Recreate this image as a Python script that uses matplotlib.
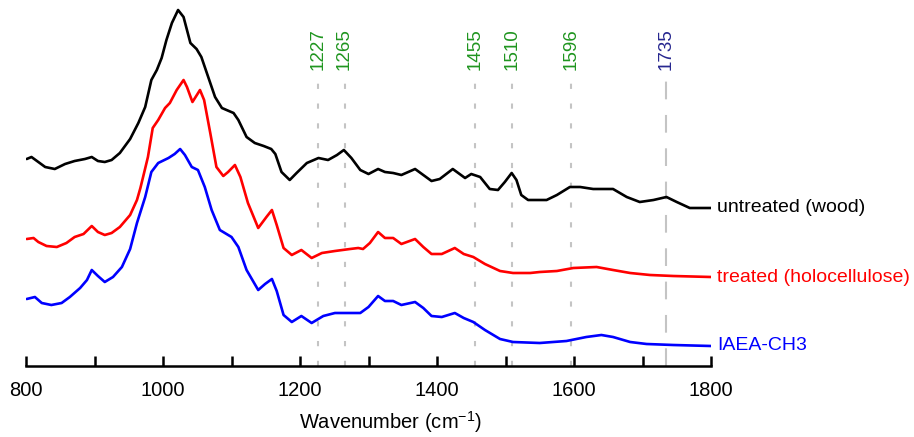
import matplotlib
matplotlib.use("Agg")
import matplotlib.pyplot as plt

plt.rcParams['font.family'] = ['Liberation Sans', 'DejaVu Sans']
plt.rcParams['mathtext.fontset'] = 'custom'
plt.rcParams['mathtext.rm'] = 'Liberation Sans'
plt.rcParams['mathtext.it'] = 'Liberation Sans'
plt.rcParams['mathtext.default'] = 'regular'

# ---- data (arbitrary absorbance units, offset spectra) ----
wn_untreated = [801, 808, 818, 828, 842, 857, 871, 886, 896, 905, 915, 925, 937, 952, 964, 974,
                983, 991, 998, 1005, 1013, 1022, 1030, 1035, 1040, 1049, 1056, 1066, 1076, 1086,
                1103, 1110, 1122, 1134, 1147, 1158, 1164, 1173, 1185, 1195, 1210, 1227, 1241,
                1254, 1264, 1275, 1288, 1300, 1314, 1324, 1336, 1348, 1368, 1380, 1392, 1404,
                1423, 1441, 1450, 1463, 1477, 1489, 1499, 1509, 1516, 1523, 1533, 1560, 1575,
                1594, 1609, 1628, 1657, 1677, 1696, 1716, 1735, 1750, 1769, 1800]
abs_untreated = [207, 209, 204, 199, 197, 202, 205, 207, 209, 205, 204, 206, 213, 227, 243, 259,
                 286, 296, 308, 326, 343, 356, 349, 336, 323, 317, 309, 289, 269, 258,
                 253, 246, 229, 223, 220, 217, 212, 194, 186, 193, 203, 208, 206,
                 211, 216, 208, 196, 192, 197, 194, 193, 191, 197, 191, 185, 187,
                 197, 188, 192, 189, 177, 176, 184, 193, 186, 171, 166, 166, 171,
                 179, 179, 177, 177, 169, 164, 166, 169, 164, 158, 158]

wn_treated = [801, 811, 818, 830, 845, 859, 871, 884, 896, 905, 915, 925, 937, 952, 962, 967,
              972, 978, 985, 993, 1003, 1010, 1020, 1030, 1035, 1043, 1054, 1060, 1069, 1078,
              1088, 1095, 1105, 1113, 1124, 1139, 1151, 1159, 1166, 1176, 1188, 1202, 1217,
              1232, 1251, 1273, 1285, 1292, 1302, 1314, 1324, 1336, 1348, 1368, 1380, 1392,
              1407, 1426, 1439, 1453, 1470, 1492, 1511, 1536, 1550, 1575, 1599, 1633, 1657,
              1682, 1711, 1745, 1800]
abs_treated = [127, 128, 124, 120, 119, 123, 129, 132, 140, 134, 131, 133, 139, 151, 166, 178,
               192, 209, 238, 246, 258, 263, 276, 286, 279, 264, 276, 266, 233, 199,
               190, 194, 201, 189, 163, 138, 149, 156, 141, 118, 111, 116, 108,
               113, 115, 117, 118, 117, 123, 134, 128, 128, 122, 127, 119, 112,
               112, 118, 112, 109, 102, 95, 93, 93, 94, 95, 98, 99, 96,
               93, 91, 90, 89]

wn_iaea = [801, 813, 823, 837, 852, 864, 879, 889, 896, 905, 915, 927, 940, 952, 962, 974,
           983, 993, 1008, 1017, 1025, 1032, 1042, 1051, 1061, 1071, 1083, 1100, 1110, 1122,
           1139, 1149, 1159, 1166, 1176, 1188, 1202, 1217, 1234, 1251, 1268, 1288, 1300,
           1314, 1324, 1336, 1348, 1368, 1380, 1392, 1407, 1426, 1439, 1453, 1470, 1492,
           1511, 1550, 1589, 1618, 1640, 1657, 1682, 1706, 1745, 1800]
abs_iaea = [67, 69, 63, 61, 63, 69, 78, 86, 96, 90, 84, 89, 99, 117, 143, 169,
            194, 203, 208, 212, 217, 211, 199, 196, 179, 156, 136, 129, 119, 96,
            76, 82, 87, 75, 51, 44, 50, 43, 50, 53, 53, 53, 59,
            70, 65, 65, 61, 64, 58, 50, 49, 53, 48, 44, 36, 27,
            24, 23, 25, 29, 31, 29, 24, 22, 21, 20]

series_names = ["untreated (wood)", "treated (holocellulose)", "IAEA-CH3"]
series_colors = ["black", "#ff0000", "#0000ff"]

marker_wn = [1227, 1265, 1455, 1510, 1596, 1735]
marker_labels = ["1227", "1265", "1455", "1510", "1596", "1735"]
marker_colors = ["#1f951f", "#1f951f", "#1f951f", "#1f951f", "#1f951f", "#26268f"]
marker_styles = ["dot", "dot", "dot", "dot", "dot", "dash"]

xticks = list(range(800, 1801, 100))
xticklabels = [str(t) if t % 200 == 0 else "" for t in xticks]

# ---- figure ----
W, H = 914, 437
fig = plt.figure(figsize=(W / 100, H / 100), dpi=100)
ax = fig.add_axes([26 / W, 71 / H, 685 / W, 366 / H])
ax.set_xlim(800, 1800)
ax.set_ylim(0, 366)

for wn, name, st, col in zip(marker_wn, marker_labels, marker_styles, marker_colors):
    ls = (0, (2.5, 7)) if st == "dot" else (0, (8.5, 7.5))
    ax.plot([wn, wn], [0, 286], color="#c4c4c4", lw=1.5, ls=ls, zorder=1, solid_capstyle='butt')
    ax.text(wn, 317, name, rotation=90, ha="center", va="center", color=col, fontsize=13.5)

xs = [wn_untreated, wn_treated, wn_iaea]
ys = [abs_untreated, abs_treated, abs_iaea]
for x, y, name, col in zip(xs, ys, series_names, series_colors):
    ax.plot(x, y, color=col, lw=1.9, zorder=3, solid_joinstyle='round', solid_capstyle='round')
    ax.text(1809, y[-1], name, color=col, fontsize=14, ha="left", va="center", clip_on=False)

for s in ["left", "right", "top"]:
    ax.spines[s].set_visible(False)
ax.spines["bottom"].set_linewidth(1.8)
ax.set_yticks([])
ax.set_xticks(xticks)
ax.set_xticklabels(xticklabels)
ax.tick_params(axis="x", direction="in", length=7, width=1.8, labelsize=14.5, pad=11)
ax.set_xlabel("Wavenumber (cm$^{-1}$)", fontsize=14.5)
ax.xaxis.set_label_coords((390 - 26) / 685, -56 / 366)
ax.xaxis.label.set_va("center")
ax.patch.set_alpha(0)

fig.savefig("out.png", dpi=100)
